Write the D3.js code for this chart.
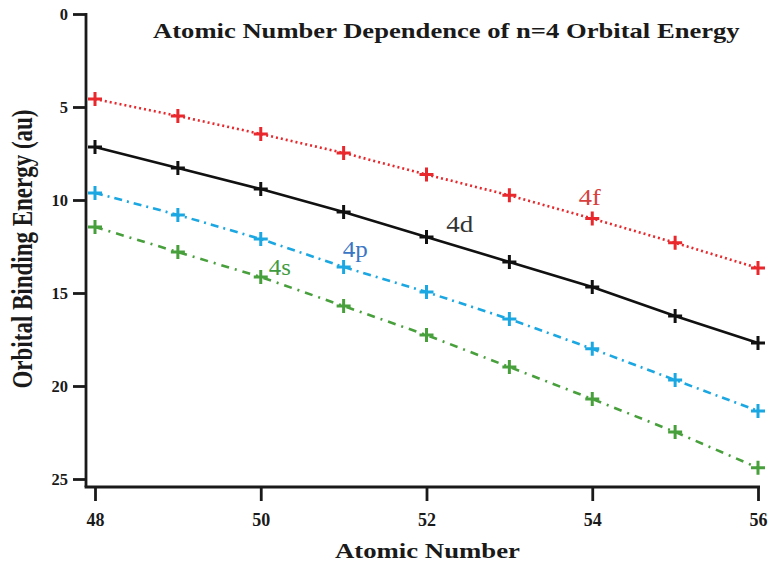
<!DOCTYPE html>
<html>
<head>
<meta charset="utf-8">
<script src="https://cdn.jsdelivr.net/npm/d3@7"></script>
<style>
html,body{margin:0;padding:0;background:#fff;}
svg{display:block;}
</style>
</head>
<body>
<svg id="chart" width="769" height="563"></svg>
<script>
const atomicNumbers = [48, 49, 50, 51, 52, 53, 54, 55, 56];
const e4f = [4.57, 5.48, 6.45, 7.47, 8.63, 9.75, 11.0, 12.3, 13.66];
const e4d = [7.15, 8.28, 9.41, 10.65, 11.99, 13.33, 14.68, 16.24, 17.69];
const e4p = [9.62, 10.8, 12.1, 13.6, 14.95, 16.4, 18.0, 19.68, 21.34];
const e4s = [11.45, 12.8, 14.14, 15.7, 17.26, 18.98, 20.7, 22.47, 24.4];
const seriesNames = ["4f", "4d", "4p", "4s"];
const xTicks = [48, 50, 52, 54, 56];
const yTicks = [0, 5, 10, 15, 20, 25];

const series = [
  {name: "4f", values: e4f, color: "#e8282c", labelColor: "#d8403e", dash: "2,3", label: [53.97, 10.27], w: 22},
  {name: "4d", values: e4d, color: "#111111", labelColor: "#333333", dash: null, label: [52.40, 11.72], w: 27},
  {name: "4p", values: e4p, color: "#1ba7e1", labelColor: "#3a76c4", dash: "8,5,2,5", label: [51.14, 13.06], w: 25},
  {name: "4s", values: e4s, color: "#48a03c", labelColor: "#3f9b3f", dash: "8,6,2,6", label: [50.23, 14.03], w: 22}
];

const svg = d3.select("#chart");
const serif = "'Liberation Serif','Times New Roman',serif";

const x = d3.scaleLinear().domain([48, 56]).range([95, 758]);
const y = d3.scaleLinear().domain([0, 25]).range([14, 479]);

const axisLeftX = 86, axisBottomY = 487;

// stretched text helper: left x0, baseline y0, target width
function stretchedText(x0, y0, width, size, weight, fill, str) {
  const t = svg.append("text").attr("x", 0).attr("y", 0)
    .attr("font-family", serif).attr("font-weight", weight).attr("font-size", size)
    .attr("fill", fill).text(str);
  const len = t.node().getComputedTextLength() || width;
  t.attr("transform", `translate(${x0},${y0}) scale(${width / len},1)`);
  return t;
}

// axes lines
svg.append("line").attr("x1", axisLeftX).attr("x2", axisLeftX).attr("y1", 13).attr("y2", axisBottomY)
  .attr("stroke", "#1a1a1a").attr("stroke-width", 2.8);
svg.append("line").attr("x1", axisLeftX - 1.4).attr("x2", 760).attr("y1", axisBottomY).attr("y2", axisBottomY)
  .attr("stroke", "#1a1a1a").attr("stroke-width", 2.8);

// y axis
const yAxis = d3.axisLeft(y).tickValues(yTicks).tickSize(13).tickPadding(5);
const gy = svg.append("g").attr("transform", `translate(${axisLeftX},0)`).call(yAxis);
gy.select(".domain").remove();
gy.selectAll(".tick line").attr("stroke", "#1a1a1a").attr("stroke-width", 2.8);
gy.selectAll(".tick text").attr("font-family", serif).attr("font-weight", "bold")
  .attr("font-size", 16.5).attr("fill", "#1a1a1a");

// x axis
const xAxis = d3.axisBottom(x).tickValues(xTicks).tickSize(14).tickPadding(12);
const gx = svg.append("g").attr("transform", `translate(0,${axisBottomY})`).call(xAxis);
gx.select(".domain").remove();
gx.selectAll(".tick line").attr("stroke", "#1a1a1a").attr("stroke-width", 2.8);
gx.selectAll(".tick text").attr("font-family", serif).attr("font-weight", "bold")
  .attr("font-size", 18).attr("fill", "#1a1a1a");

// lines
const line = d3.line().x(d => x(d[0])).y(d => y(d[1]));
series.forEach(s => {
  const pts = atomicNumbers.map((a, i) => [a, s.values[i]]);
  svg.append("path").datum(pts).attr("d", line)
    .attr("fill", "none").attr("stroke", s.color).attr("stroke-width", 2.6)
    .attr("stroke-dasharray", s.dash);
  svg.append("g").selectAll("path.m").data(pts).join("path")
    .attr("transform", d => `translate(${x(d[0])},${y(d[1])})`)
    .attr("d", "M-7,0H7M0,-7V7")
    .attr("stroke", s.color).attr("stroke-width", 3).attr("fill", "none");
  stretchedText(x(s.label[0]) - s.w / 2, y(s.label[1]), s.w, 23, "normal", s.labelColor, s.name);
});

// title
stretchedText(153, 38, 587, 22, "bold", "#1a1a1a", "Atomic Number Dependence of n=4 Orbital Energy");

// x title
stretchedText(335, 558, 185, 22, "bold", "#1a1a1a", "Atomic Number");

// y title
svg.append("text").attr("transform", "translate(32,249) scale(1.25,1) rotate(-90)").attr("text-anchor", "middle")
  .attr("font-family", serif).attr("font-weight", "bold").attr("font-size", 23).attr("fill", "#1a1a1a")
  .text("Orbital Binding Energy (au)");
</script>
</body>
</html>
